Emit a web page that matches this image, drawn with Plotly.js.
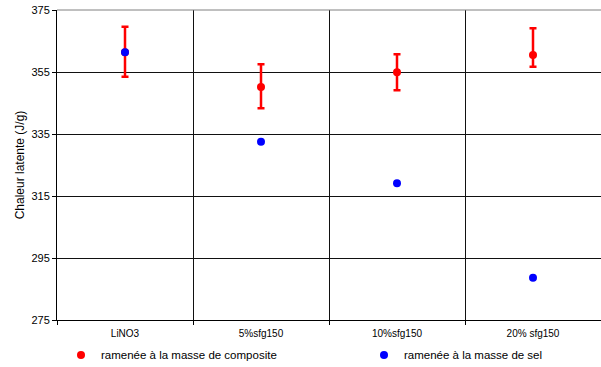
<!DOCTYPE html>
<html>
<head>
<meta charset="utf-8">
<script src="https://cdn.plot.ly/plotly-3.0.1.min.js"></script>
<style>html,body{margin:0;padding:0;background:#fff;}#chart{width:601px;height:367px;}</style>
</head>
<body>
<div id="chart"></div>
<script>
const categories = ["LiNO3", "5%sfg150", "10%sfg150", "20% sfg150"];
const compositeValues = [361.4, 350.2, 354.9, 360.5];
const compositeErrPlus = [8.2, 7.3, 5.8, 8.6];
const compositeErrMinus = [7.9, 6.9, 5.8, 3.8];
const selValues = [361.4, 332.5, 319.1, 288.6];
const yTicks = [275, 295, 315, 335, 355, 375];
const seriesNames = ["ramenée à la masse de composite", "ramenée à la masse de sel"];

const traces = [
  {
    x: categories, y: compositeValues, type: "scatter", mode: "markers",
    name: seriesNames[0], legend: "legend",
    marker: {color: "#ff0000", size: 8},
    error_y: {type: "data", symmetric: false, array: compositeErrPlus, arrayminus: compositeErrMinus,
      color: "#ff0000", thickness: 2.5, width: 3.5}
  },
  {
    x: categories, y: selValues, type: "scatter", mode: "markers",
    name: seriesNames[1], legend: "legend2",
    marker: {color: "#0000ff", size: 8}
  }
];

const legendBase = {orientation: "h", xref: "container", yref: "container", y: 0.033, yanchor: "middle",
  xanchor: "left", font: {size: 11.5}, bgcolor: "rgba(0,0,0,0)", borderwidth: 0};

const layout = {
  width: 601, height: 367,
  margin: {l: 57, r: 0, t: 10, b: 47, autoexpand: false},
  paper_bgcolor: "#ffffff", plot_bgcolor: "#ffffff",
  font: {family: "Liberation Sans, Arial, sans-serif", size: 11, color: "#000"},
  showlegend: true,
  legend: Object.assign({}, legendBase, {x: 61 / 601}),
  legend2: Object.assign({}, legendBase, {x: 364 / 601}),
  xaxis: {
    type: "category", range: [-0.5, 3.5], tickson: "boundaries",
    showgrid: true, gridcolor: "#111", gridwidth: 1,
    ticks: "outside", ticklen: 4, tickcolor: "#000",
    showline: true, linecolor: "#000", linewidth: 1,
    tickfont: {size: 10}, ticklabelstandoff: 4, zeroline: false, fixedrange: true
  },
  yaxis: {
    range: [275, 375], tickvals: yTicks, ticktext: yTicks.map(String),
    showgrid: true, gridcolor: "#111", gridwidth: 1,
    ticks: "outside", ticklen: 4, tickcolor: "#000",
    showline: true, linecolor: "#000", linewidth: 1,
    tickfont: {size: 11}, zeroline: false,
    title: {text: "Chaleur latente (J/g)", font: {size: 12}, standoff: 4}
  },
  shapes: [
    {type: "line", xref: "paper", yref: "paper", x0: 0, x1: 1, y0: 1, y1: 1,
     line: {color: "#808080", width: 1}}
  ]
};

Plotly.newPlot("chart", traces, layout, {displayModeBar: false, staticPlot: true});
</script>
</body>
</html>
